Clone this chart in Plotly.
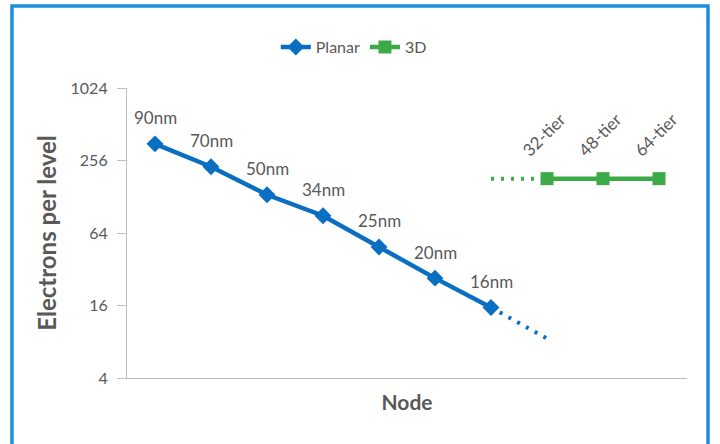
import math
import plotly.graph_objects as go

# Data
nodes = ["90nm", "70nm", "50nm", "34nm", "25nm", "20nm", "16nm"]
planar_electrons = [352, 227, 133, 89, 49, 27, 15.4]
planar_trend_end = 8.5          # dotted extrapolation beyond 16nm
tiers = ["32-tier", "48-tier", "64-tier"]
electrons_3d = [181, 181, 181]
y_ticks = [4, 16, 64, 256, 1024]

categories = nodes + tiers

BLUE = "#0a6fc2"
GREEN = "#3daa48"
GRAY = "#595959"
FONT = "Lato"

fig = go.Figure()

# dotted extrapolations
fig.add_trace(go.Scatter(
    x=[nodes[-1], tiers[0]], y=[planar_electrons[-1], planar_trend_end],
    mode="lines", line=dict(color=BLUE, width=4, dash="3px,7px"),
    showlegend=False, hoverinfo="skip"))
fig.add_trace(go.Scatter(
    x=[nodes[-1], tiers[0]], y=[electrons_3d[0], electrons_3d[0]],
    mode="lines", line=dict(color=GREEN, width=4, dash="3px,7px"),
    showlegend=False, hoverinfo="skip"))

fig.add_trace(go.Scatter(
    x=nodes, y=planar_electrons, name="Planar", mode="lines+markers",
    line=dict(color=BLUE, width=4.5),
    marker=dict(symbol="diamond", size=13, color=BLUE)))
fig.add_trace(go.Scatter(
    x=tiers, y=electrons_3d, name="3D", mode="lines+markers",
    line=dict(color=GREEN, width=4.5),
    marker=dict(symbol="square", size=13, color=GREEN)))

annotations = []
for n, v in zip(nodes, planar_electrons):
    annotations.append(dict(x=n, y=math.log10(v), xref="x", yref="y", text=n,
                            showarrow=False, yshift=26,
                            font=dict(family=FONT, size=17, color=GRAY)))
for t, v in zip(tiers, electrons_3d):
    annotations.append(dict(x=t, y=math.log10(v), xref="x", yref="y", text=t,
                            showarrow=False, textangle=-45, yshift=44, xshift=-3,
                            font=dict(family=FONT, size=17, color=GRAY)))

fig.update_layout(
    width=720, height=444,
    margin=dict(l=127, r=33, t=88, b=66),
    paper_bgcolor="white", plot_bgcolor="white",
    font=dict(family=FONT, color=GRAY, size=15),
    showlegend=True,
    legend=dict(orientation="h", x=0.405, xanchor="center", y=1.141, yanchor="middle",
                font=dict(family=FONT, size=16, color=GRAY), itemwidth=30,
                bgcolor="rgba(0,0,0,0)"),
    annotations=annotations,
    shapes=[dict(type="rect", xref="paper", yref="paper",
                 x0=-0.2054, x1=1.0375, y0=-0.3, y1=1.283,
                 line=dict(color="#1b8fdc", width=3.5), fillcolor="rgba(0,0,0,0)",
                 layer="below")],
)

fig.update_xaxes(type="category", categoryorder="array", categoryarray=categories,
                 range=[-0.5, 9.5], showticklabels=False, ticks="",
                 showline=True, linecolor="#bfbfbf", linewidth=1.2, showgrid=False,
                 zeroline=False,
                 title=dict(text="<b>Node</b>", font=dict(family=FONT, size=21, color=GRAY),
                            standoff=17))
fig.update_yaxes(type="log", range=[0.60206, 3.0103], tickvals=y_ticks,
                 ticktext=[str(v) for v in y_ticks], ticks="outside", ticklen=9,
                 tickcolor="#bfbfbf", showline=True, linecolor="#bfbfbf", linewidth=1.2,
                 showgrid=False, zeroline=False, ticklabelstandoff=6,
                 tickfont=dict(family=FONT, size=16, color=GRAY),
                 title=dict(text="<b>Electrons per level</b>",
                            font=dict(family=FONT, size=24, color=GRAY), standoff=7))

fig.write_html("out.html", config={"displayModeBar": False},
               post_script="document.body.style.margin='0';")
